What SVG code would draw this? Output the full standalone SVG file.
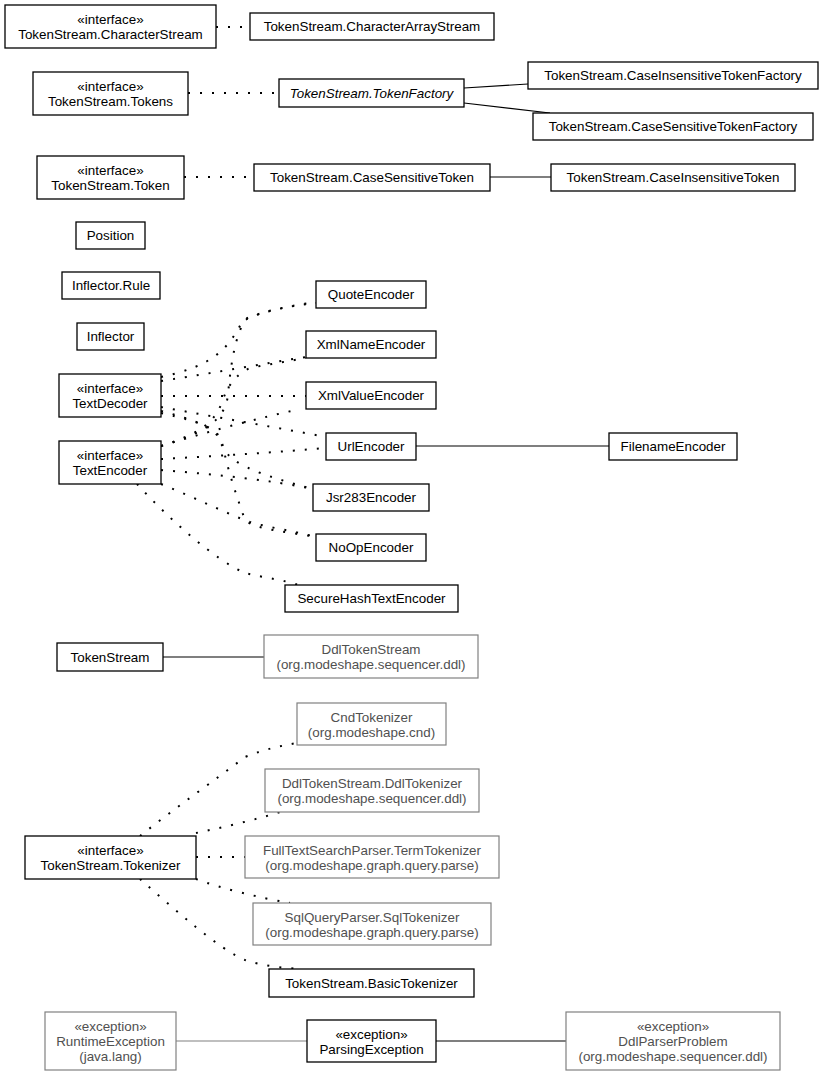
<svg xmlns="http://www.w3.org/2000/svg" width="824" height="1076" viewBox="0 0 824 1076">
<style>
  text { font-family: "Liberation Sans", Arial, Helvetica, sans-serif; font-size: 13.4px; text-anchor: middle; fill: #000; }
  .box rect { fill: #fff; stroke: #000; stroke-width: 1.3; }
  .ext rect { fill: #fff; stroke: #808080; stroke-width: 1.2; }
  .ext text { fill: #505050; }
  .it { font-style: italic; }
  #edges path { fill: none; stroke: #000; stroke-width: 1.2; }
  #edges path.dot { stroke-width: 2; stroke-dasharray: 2 10; }
  #edges path.gray { stroke: #808080; }
</style>
<rect x="0" y="0" width="824" height="1076" fill="#fff"/>
<g id="edges">
  <path class="dot" d="M216,27 L250,27"/>
  <path class="dot" d="M188,93 L279,93"/>
  <path d="M464,88 L528,84"/>
  <path d="M464,103 L550,113"/>
  <path class="dot" d="M184,177 L254,177"/>
  <path d="M490,177 L551,177"/>
  <!-- TextDecoder implementations -->
  <path class="dot" d="M161,377 C212,366 228,350 243,320 C262,311 290,306 316,302"/>
  <path class="dot" d="M161,381 C220,372 260,364 306,357"/>
  <path class="dot" d="M161,396 L306,396"/>
  <path class="dot" d="M161,407 C220,418 280,428 326,437"/>
  <path class="dot" d="M161,411 C196,420 215,428 220,440 C226,460 242,470 313,489"/>
  <path class="dot" d="M161,413 C200,422 218,428 222,442 C228,472 238,500 245,520 C256,530 290,532 316,537"/>
  <!-- TextEncoder implementations -->
  <path class="dot" d="M161,446 C205,433 225,420 228,395 C231,360 236,335 245,320 C262,311 290,306 316,303"/>
  <path class="dot" d="M161,446 C198,434 214,424 222,402 C228,384 238,373 250,368 C270,364 290,361 306,358"/>
  <path class="dot" d="M161,446 C220,428 260,418 300,409"/>
  <path class="dot" d="M161,459 C220,456 280,452 326,448"/>
  <path class="dot" d="M161,470 C220,475 270,480 313,489"/>
  <path class="dot" d="M161,484 C200,500 230,515 250,522 C270,528 295,531 316,537"/>
  <path class="dot" d="M137,484 C170,520 215,560 245,573 C265,578 285,580 298,585"/>
  <path d="M416,446 L609,446"/>
  <path d="M163,657 L264,657"/>
  <!-- Tokenizer implementations -->
  <path class="dot" d="M140,836 C175,808 215,780 245,757 C265,749 280,746 297,743"/>
  <path class="dot" d="M196,833 C220,828 255,820 280,812"/>
  <path class="dot" d="M196,857 L245,857"/>
  <path class="dot" d="M196,879 C220,888 260,898 290,903"/>
  <path class="dot" d="M140,879 C175,910 220,950 245,960 C262,966 285,968 300,969"/>
  <path class="gray" d="M176,1041 L307,1041"/>
  <path d="M436,1041 L566,1041"/>
</g>

<g id="n-characterstream" class="box"><rect x="5" y="5" width="211" height="43"/><text x="110.5" y="24">«interface»</text><text x="110.5" y="39">TokenStream.CharacterStream</text></g>
<g id="n-characterarraystream" class="box"><rect x="250" y="13" width="244" height="27"/><text x="372" y="31">TokenStream.CharacterArrayStream</text></g>
<g id="n-tokens" class="box"><rect x="33" y="72" width="155" height="43"/><text x="110.5" y="91">«interface»</text><text x="110.5" y="106">TokenStream.Tokens</text></g>
<g id="n-tokenfactory" class="box"><rect x="279" y="79" width="185" height="28"/><text class="it" x="371.5" y="98">TokenStream.TokenFactory</text></g>
<g id="n-caseinsensitivetokenfactory" class="box"><rect x="528" y="62" width="290" height="27"/><text x="673" y="80">TokenStream.CaseInsensitiveTokenFactory</text></g>
<g id="n-casesensitivetokenfactory" class="box"><rect x="533" y="113" width="280" height="27"/><text x="673" y="131">TokenStream.CaseSensitiveTokenFactory</text></g>
<g id="n-token" class="box"><rect x="37" y="156" width="147" height="43"/><text x="110.5" y="175">«interface»</text><text x="110.5" y="190">TokenStream.Token</text></g>
<g id="n-casesensitivetoken" class="box"><rect x="254" y="164" width="236" height="27"/><text x="372" y="182">TokenStream.CaseSensitiveToken</text></g>
<g id="n-caseinsensitivetoken" class="box"><rect x="551" y="164" width="244" height="27"/><text x="673" y="182">TokenStream.CaseInsensitiveToken</text></g>
<g id="n-position" class="box"><rect x="76" y="222" width="69" height="27"/><text x="110.5" y="240">Position</text></g>
<g id="n-inflectorrule" class="box"><rect x="62" y="272" width="98" height="27"/><text x="111" y="290">Inflector.Rule</text></g>
<g id="n-inflector" class="box"><rect x="77" y="323" width="67" height="27"/><text x="110.5" y="341">Inflector</text></g>
<g id="n-quoteencoder" class="box"><rect x="316" y="281" width="110" height="27"/><text x="371" y="299">QuoteEncoder</text></g>
<g id="n-xmlnameencoder" class="box"><rect x="306" y="331" width="130" height="27"/><text x="371" y="349">XmlNameEncoder</text></g>
<g id="n-textdecoder" class="box"><rect x="59" y="374" width="102" height="43"/><text x="110" y="393">«interface»</text><text x="110" y="408">TextDecoder</text></g>
<g id="n-xmlvalueencoder" class="box"><rect x="306" y="382" width="130" height="27"/><text x="371" y="400">XmlValueEncoder</text></g>
<g id="n-textencoder" class="box"><rect x="59" y="441" width="102" height="43"/><text x="110" y="460">«interface»</text><text x="110" y="475">TextEncoder</text></g>
<g id="n-urlencoder" class="box"><rect x="326" y="433" width="90" height="27"/><text x="371" y="451">UrlEncoder</text></g>
<g id="n-filenameencoder" class="box"><rect x="609" y="433" width="128" height="27"/><text x="673" y="451">FilenameEncoder</text></g>
<g id="n-jsr283encoder" class="box"><rect x="313" y="484" width="116" height="27"/><text x="371" y="502">Jsr283Encoder</text></g>
<g id="n-noopencoder" class="box"><rect x="316" y="534" width="110" height="27"/><text x="371" y="552">NoOpEncoder</text></g>
<g id="n-securehashtextencoder" class="box"><rect x="285" y="585" width="173" height="27"/><text x="371.5" y="603">SecureHashTextEncoder</text></g>
<g id="n-tokenstream" class="box"><rect x="57" y="643" width="106" height="28"/><text x="110" y="662">TokenStream</text></g>
<g id="n-ddltokenstream" class="ext"><rect x="264" y="635" width="214" height="43"/><text x="371" y="654">DdlTokenStream</text><text x="371" y="669">(org.modeshape.sequencer.ddl)</text></g>
<g id="n-cndtokenizer" class="ext"><rect x="297" y="703" width="149" height="42"/><text x="371.5" y="721.5">CndTokenizer</text><text x="371.5" y="736.5">(org.modeshape.cnd)</text></g>
<g id="n-ddltokenizer" class="ext"><rect x="265" y="769" width="214" height="43"/><text x="372" y="788">DdlTokenStream.DdlTokenizer</text><text x="372" y="803">(org.modeshape.sequencer.ddl)</text></g>
<g id="n-tokenizer" class="box"><rect x="25" y="836" width="171" height="43"/><text x="110.5" y="855">«interface»</text><text x="110.5" y="870">TokenStream.Tokenizer</text></g>
<g id="n-termtokenizer" class="ext"><rect x="245" y="836" width="254" height="42"/><text x="372" y="854.5">FullTextSearchParser.TermTokenizer</text><text x="372" y="869.5">(org.modeshape.graph.query.parse)</text></g>
<g id="n-sqltokenizer" class="ext"><rect x="253" y="903" width="238" height="42"/><text x="372" y="921.5">SqlQueryParser.SqlTokenizer</text><text x="372" y="936.5">(org.modeshape.graph.query.parse)</text></g>
<g id="n-basictokenizer" class="box"><rect x="269" y="969" width="205" height="28"/><text x="371.5" y="988">TokenStream.BasicTokenizer</text></g>
<g id="n-runtimeexception" class="ext"><rect x="45" y="1012" width="131" height="58"/><text x="110.5" y="1031">«exception»</text><text x="110.5" y="1046">RuntimeException</text><text x="110.5" y="1061">(java.lang)</text></g>
<g id="n-parsingexception" class="box"><rect x="307" y="1020" width="129" height="42"/><text x="371.5" y="1038.5">«exception»</text><text x="371.5" y="1053.5">ParsingException</text></g>
<g id="n-ddlparserproblem" class="ext"><rect x="566" y="1012" width="214" height="58"/><text x="673" y="1031">«exception»</text><text x="673" y="1046">DdlParserProblem</text><text x="673" y="1061">(org.modeshape.sequencer.ddl)</text></g>
</svg>
